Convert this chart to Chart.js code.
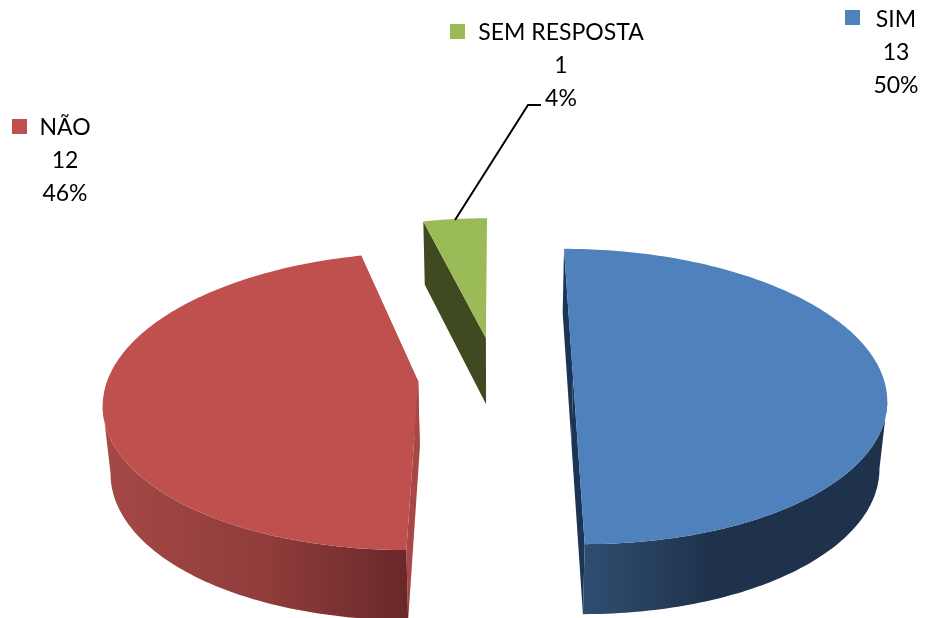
<!DOCTYPE html>
<html>
<head>
<meta charset="utf-8">
<style>html,body{margin:0;padding:0;background:#fff}canvas{display:block}</style>
<script src="https://cdn.jsdelivr.net/npm/chart.js@4"></script>
</head>
<body>
<canvas id="c" width="930" height="618"></canvas>
<script>
const categories = ['SIM', 'NÃO', 'SEM RESPOSTA'];
const values = [13, 12, 1];
const explode = [77, 78, 87];
const topColors = ['#4F81BD', '#C0504D', '#9BBB59'];
const cutWallColors = ['#1C3557', '#A84846', '#3F4A20'];
const outerWallStops = [
  [[0, '#2F4D70'], [0.55, '#273F5E'], [1, '#1E324B']],
  [[0, '#A54947'], [0.55, '#8F3C3A'], [1, '#6A2829']],
  [[0, '#3F4A20'], [1, '#3F4A20']]
];
const labelBoxes = [
  {key: [845, 10], cx: 896, base: [27, 60, 93]},
  {key: [12, 119], cx: 65, base: [135, 168, 201]},
  {key: [450, 24], cx: 561, base: [40, 73, 106]}
];

const SQUASH = 0.468, PERSP = 0.132, SHRINK = 0.98;

function project(arc, gx, gy) {
  const R = arc.outerRadius, Y = gy / R, X = gx / R, w = 1 - PERSP * Y;
  return {x: arc.x + R * X / w, y: arc.y + R * SQUASH * Y / w, w, Y};
}
function lower(arc, p) {
  return {x: arc.x + (p.x - arc.x) * SHRINK, y: p.y + 67 + 3 * p.Y};
}
function trace(ctx, pts) {
  ctx.beginPath();
  pts.forEach((p, i) => i ? ctx.lineTo(p.x, p.y) : ctx.moveTo(p.x, p.y));
  ctx.closePath();
}
function extremeIndex(pts, apex) {
  let best = 0, far = -1;
  pts.forEach((p, k) => {
    const d = Math.abs(p.x - apex.x);
    if (d > far) { far = d; best = k; }
  });
  return best;
}
function drawSlice(ctx, arc, i) {
  const a0 = arc.startAngle, a1 = arc.endAngle, mid = (a0 + a1) / 2;
  const off = arc.options.offset, ox = off * Math.cos(mid), oy = off * Math.sin(mid);
  const R = arc.outerRadius, n = Math.ceil((a1 - a0) / (Math.PI / 180));
  const rim = [];
  for (let k = 0; k <= n; k++) {
    const a = a0 + (a1 - a0) * k / n;
    rim.push(project(arc, ox + R * Math.cos(a), oy + R * Math.sin(a)));
  }
  const apex = project(arc, ox, oy);
  const rimLow = rim.map(p => lower(arc, p)), apexLow = lower(arc, apex);

  // cut walls: the end wall of a narrow slice faces away from the viewer
  ctx.fillStyle = cutWallColors[i];
  trace(ctx, [apex, rim[0], rimLow[0], apexLow]); ctx.fill();
  if (a1 - a0 > 1) {
    trace(ctx, [apex, rim[n], rimLow[n], apexLow]); ctx.fill();
  }

  // outer curved wall: from the side silhouette round to the front edge
  if (rim.some(p => p.Y > -0.3)) {
    const kT = extremeIndex(rim, apex), kL = extremeIndex(rimLow, apexLow);
    const startsAtFront = rim[0].Y > rim[n].Y;
    const upper = startsAtFront ? rim.slice(0, kT + 1) : rim.slice(kT);
    const low = startsAtFront ? rimLow.slice(0, kL + 1) : rimLow.slice(kL);
    const xs = upper.map(p => p.x);
    const g = ctx.createLinearGradient(
      Math.min(...xs), 0,
      i === 0 ? Math.min(...xs) + 125 : Math.max(...xs), 0);
    outerWallStops[i].forEach(s => g.addColorStop(s[0], s[1]));
    ctx.fillStyle = g;
    trace(ctx, upper.concat(low.slice().reverse())); ctx.fill();
  }

  // top face
  ctx.fillStyle = arc.options.backgroundColor;
  trace(ctx, [apex].concat(rim)); ctx.fill();
}

const pie3d = {
  id: 'pie3d',
  beforeDatasetDraw(chart, args) {
    const ctx = chart.ctx;
    ctx.save();
    args.meta.data.forEach((arc, i) => drawSlice(ctx, arc, i));
    ctx.restore();
    return false;
  },
  afterDraw(chart) {
    const ctx = chart.ctx;
    const total = values.reduce((a, b) => a + b, 0);
    ctx.save();
    ctx.strokeStyle = '#000'; ctx.lineWidth = 2;
    ctx.beginPath(); ctx.moveTo(455, 220); ctx.lineTo(528, 105); ctx.lineTo(541, 105); ctx.stroke();
    ctx.font = '23px Lato';
    ctx.textAlign = 'center'; ctx.textBaseline = 'alphabetic';
    labelBoxes.forEach((b, i) => {
      ctx.fillStyle = topColors[i];
      ctx.fillRect(b.key[0], b.key[1], 15, 15);
      ctx.fillStyle = '#000';
      ctx.fillText(categories[i], b.cx, b.base[0]);
      ctx.fillText(String(values[i]), b.cx, b.base[1]);
      ctx.fillText(Math.round(values[i] / total * 100) + '%', b.cx, b.base[2]);
    });
    ctx.restore();
  }
};

new Chart(document.getElementById('c'), {
  type: 'pie',
  data: {
    labels: categories,
    datasets: [{data: values, backgroundColor: topColors, offset: explode, borderWidth: 0}]
  },
  options: {
    responsive: false,
    animation: false,
    radius: 310,
    rotation: 0,
    layout: {padding: {left: 62, top: 136}},
    plugins: {legend: {display: false}, tooltip: {enabled: false}}
  },
  plugins: [pie3d]
});
</script>
</body>
</html>
